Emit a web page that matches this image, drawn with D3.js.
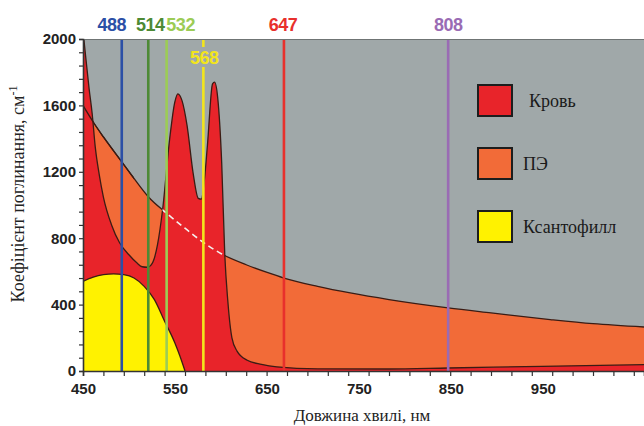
<!DOCTYPE html>
<html>
<head>
<meta charset="utf-8">
<script src="https://cdn.jsdelivr.net/npm/d3@7"></script>
<style>
  body { margin: 0; background: #fff; }
  svg { display: block; }
</style>
</head>
<body>
<svg id="viz"></svg>
<script>
var width = 644;
var height = 426;

// wavelength (nm) and absorption (cm^-1)
var bloodNm  = [450, 452, 456, 459, 462, 466, 470, 478, 486, 495, 503, 508, 513, 518, 523, 528, 535, 540, 543, 547, 552, 558, 563, 566, 569, 572, 577, 579, 582, 586, 589, 592, 596, 601, 611, 625, 640, 680, 750, 808, 900, 1000];
var bloodVal = [2050, 1930, 1700, 1550, 1350, 1180, 1048, 880, 771, 700, 650, 628, 625, 650, 760, 970, 1400, 1620, 1670, 1630, 1480, 1190, 1040, 1035, 1150, 1360, 1730, 1740, 1650, 1250, 700, 420, 200, 120, 65, 40, 25, 13, 12, 18, 28, 38];

var peNm  = [450, 460, 470, 488, 500, 514, 532, 550, 568, 586, 610, 630, 647, 680, 712, 750, 808, 850, 908, 950, 1000];
var peVal = [1600, 1500, 1410, 1260, 1160, 1050, 950, 860, 775, 705, 640, 595, 560, 510, 470, 430, 380, 350, 310, 285, 265];

var xanNm  = [450, 460, 470, 480, 490, 500, 510, 520, 530, 540, 545, 550];
var xanVal = [540, 565, 580, 585, 580, 560, 510, 430, 300, 170, 90, 0];

var laserNm = [488, 514, 532, 568, 647, 808];
var laserColors = ["#2b4fa6", "#4d8a35", "#9ccc55", "#f3e51c", "#e8302c", "#9a6bb4"];
var laserLabelDx = [-10, 2, 14, 1, -1, 0];

var xTickLabels = [450, 550, 650, 750, 850, 950];
var yTickLabels = [0, 400, 800, 1200, 1600, 2000];

var legendNames  = ["Кровь", "ПЭ", "Ксантофилл"];
var legendColors = ["#e8242a", "#f26b38", "#fff200"];

function zip(a, b) { return a.map(function(v, i) { return {nm: v, val: b[i]}; }); }
var blood = zip(bloodNm, bloodVal);
var pe = zip(peNm, peVal);
var xan = zip(xanNm, xanVal);

var pL = 83, pR = 644, pT = 39, pB = 371;

var x = d3.scaleLinear().domain([450, 1000]).range([pL, pR]);
// the printed wavelength labels sit on a slightly compressed grid in the source figure
var xLab = d3.scaleLinear().domain([450, 1060]).range([pL, pR]);
var y = d3.scaleLinear().domain([0, 2000]).range([pB, pT]);

var svg = d3.select("#viz").attr("width", width).attr("height", height);
var defs = svg.append("defs");

defs.append("clipPath").attr("id", "plotClip")
    .append("rect").attr("x", pL).attr("y", pT)
    .attr("width", pR - pL).attr("height", pB - pT);

var area = d3.area()
    .x(function(d) { return x(d.nm); })
    .y0(y(0))
    .y1(function(d) { return y(d.val); })
    .curve(d3.curveMonotoneX);
var line = d3.line()
    .x(function(d) { return x(d.nm); })
    .y(function(d) { return y(d.val); })
    .curve(d3.curveMonotoneX);

defs.append("clipPath").attr("id", "bloodClip")
    .append("path").attr("d", area(blood));
defs.append("clipPath").attr("id", "leftClip")
    .append("rect").attr("x", pL).attr("y", pT)
    .attr("width", x(500) - pL).attr("height", pB - pT);
defs.append("clipPath").attr("id", "midClip")
    .append("rect").attr("x", x(500)).attr("y", pT)
    .attr("width", x(700) - x(500)).attr("height", pB - pT);

// grey background
svg.append("rect")
    .attr("x", pL).attr("y", pT)
    .attr("width", pR - pL).attr("height", pB - pT)
    .attr("fill", "#a0a8a9");

var plot = svg.append("g").attr("clip-path", "url(#plotClip)");
var outline = "#3b1c14";

plot.append("path").attr("d", area(pe)).attr("fill", legendColors[1]);
plot.append("path").attr("d", line(pe)).attr("fill", "none")
    .attr("stroke", outline).attr("stroke-width", 1.3);

plot.append("path").attr("d", area(blood)).attr("fill", legendColors[0]);
plot.append("path").attr("d", line(blood)).attr("fill", "none")
    .attr("stroke", outline).attr("stroke-width", 1.3);

// PE edge over the blood on the far left: dark
plot.append("g").attr("clip-path", "url(#leftClip)")
    .append("path").attr("d", line(pe)).attr("fill", "none")
    .attr("stroke", outline).attr("stroke-width", 1.3);
// PE edge hidden behind the haemoglobin peaks: white dashes
plot.append("g").attr("clip-path", "url(#midClip)")
    .append("path").attr("d", line(pe)).attr("fill", "none")
    .attr("clip-path", "url(#bloodClip)")
    .attr("stroke", "#f4f0ee").attr("stroke-width", 1.6)
    .attr("stroke-dasharray", "6,4");

plot.append("path").attr("d", area(xan)).attr("fill", legendColors[2]);
plot.append("path").attr("d", line(xan)).attr("fill", "none")
    .attr("stroke", outline).attr("stroke-width", 1.3);

// laser lines
plot.selectAll(".laser")
    .data(laserNm)
    .enter()
    .append("line")
    .attr("class", "laser")
    .attr("x1", function(d) { return x(d); })
    .attr("x2", function(d) { return x(d); })
    .attr("y1", pT)
    .attr("y2", pB)
    .attr("stroke", function(d, i) { return laserColors[i]; })
    .attr("stroke-width", 2.6);

// top border
svg.append("line")
    .attr("x1", pL).attr("x2", pR).attr("y1", pT + 0.5).attr("y2", pT + 0.5)
    .attr("stroke", "#6f7474").attr("stroke-width", 1);

// laser labels
laserNm.forEach(function(d, i) {
    var inside = d === 568;
    var ly = inside ? 64 : 31;
    if (inside) {
        svg.append("rect")
            .attr("x", x(d) - 5).attr("y", 47)
            .attr("width", 10).attr("height", 20)
            .attr("fill", "#a0a8a9");
    }
    svg.append("text")
        .attr("x", x(d) + laserLabelDx[i])
        .attr("y", ly)
        .attr("text-anchor", "middle")
        .attr("font-family", "Liberation Sans, Arial, sans-serif")
        .attr("font-weight", "bold")
        .attr("font-size", 18)
        .attr("letter-spacing", -0.5)
        .attr("fill", laserColors[i])
        .text(d);
});

// axes
var axisFont = "Liberation Sans, Arial, sans-serif";
var yAxis = svg.append("g")
    .attr("transform", "translate(" + pL + ",0)")
    .call(d3.axisLeft(y).tickValues(d3.range(0, 2001, 80)).tickSize(4).tickFormat(""));
var xAxis = svg.append("g")
    .attr("transform", "translate(0," + pB + ")")
    .call(d3.axisBottom(x).tickValues(d3.range(450, 1001, 20)).tickSize(5).tickFormat(""));
[xAxis, yAxis].forEach(function(a) {
    a.select(".domain").attr("stroke", "#333").attr("stroke-width", 1.6);
    a.selectAll(".tick line").attr("stroke", "#333").attr("stroke-width", 1.2);
});

var yLabels = svg.append("g")
    .attr("transform", "translate(" + pL + ",0)")
    .call(d3.axisLeft(y).tickValues(yTickLabels).tickSize(0).tickPadding(7)
        .tickFormat(d3.format("d")));
yLabels.select(".domain").remove();
yLabels.selectAll("text")
    .attr("font-family", axisFont).attr("font-weight", "bold")
    .attr("font-size", 15).attr("fill", "#222");

var xLabels = svg.append("g")
    .attr("transform", "translate(0," + pB + ")")
    .call(d3.axisBottom(xLab).tickValues(xTickLabels).tickSize(0).tickPadding(12)
        .tickFormat(d3.format("d")));
xLabels.select(".domain").remove();
xLabels.selectAll("text")
    .attr("font-family", axisFont).attr("font-weight", "bold")
    .attr("font-size", 15).attr("fill", "#222");

// axis titles
svg.append("text")
    .attr("x", 362).attr("y", 421)
    .attr("text-anchor", "middle")
    .attr("font-family", "Liberation Serif, Times New Roman, serif")
    .attr("font-size", 17).attr("fill", "#222")
    .text("Довжина хвилі, нм");

var yt = svg.append("text")
    .attr("transform", "translate(24,194) rotate(-90)")
    .attr("text-anchor", "middle")
    .attr("font-family", "Liberation Serif, Times New Roman, serif")
    .attr("font-size", 18).attr("fill", "#222");
yt.append("tspan").text("Коефіцієнт поглинання,  см");
yt.append("tspan").attr("dy", -7).attr("font-size", 12).text("-1");

// legend
var legend = svg.append("g");
var legendY = [85, 148, 211];
legendNames.forEach(function(name, i) {
    legend.append("rect")
        .attr("x", 478).attr("y", legendY[i])
        .attr("width", 34).attr("height", 31)
        .attr("fill", legendColors[i])
        .attr("stroke", "#1d1d1d").attr("stroke-width", 2);
    legend.append("text")
        .attr("x", i === 0 ? 529 : 523)
        .attr("y", legendY[i] + 22)
        .attr("font-family", "Liberation Serif, Times New Roman, serif")
        .attr("font-size", 18).attr("fill", "#1a1a1a")
        .text(name);
});
</script>
</body>
</html>
